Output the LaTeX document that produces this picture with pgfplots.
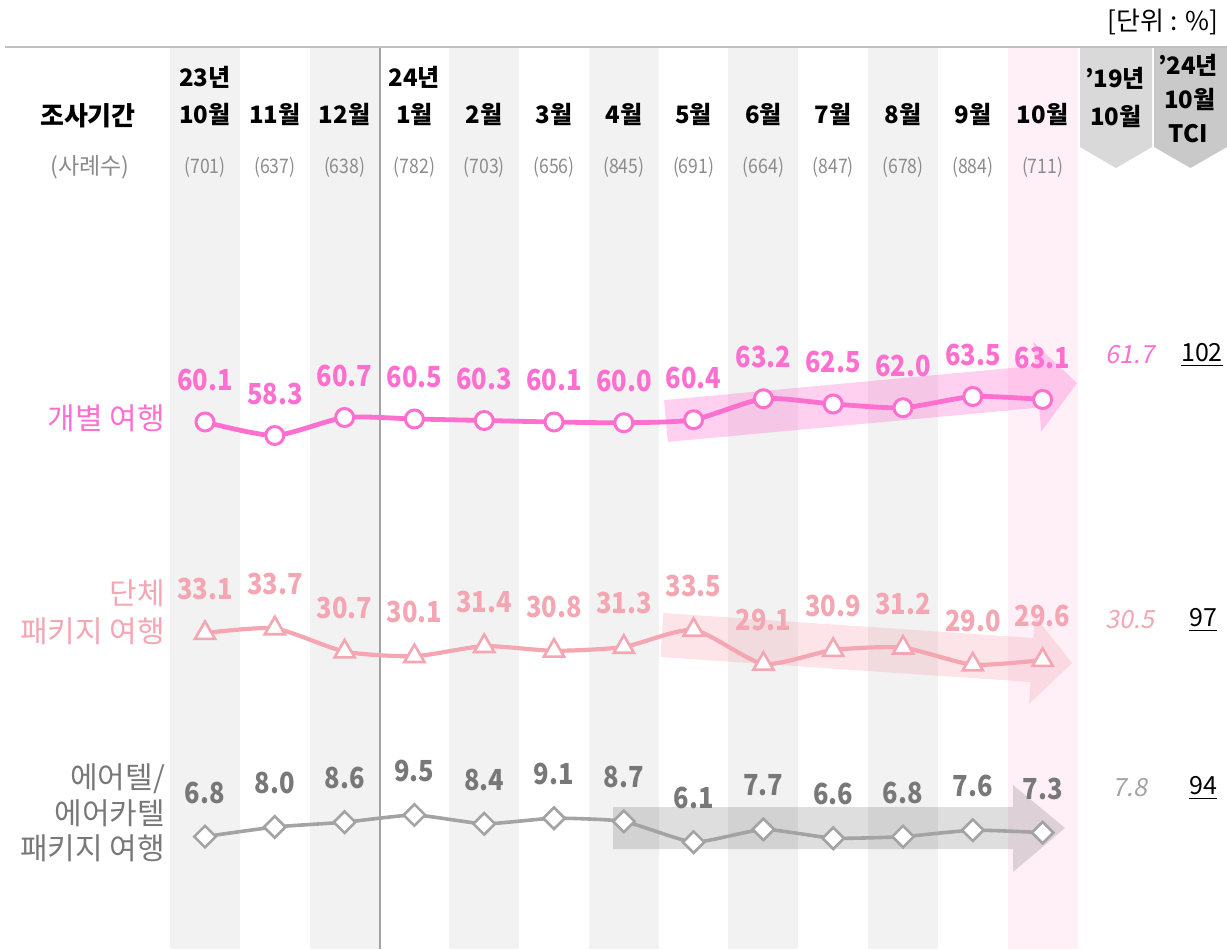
\documentclass[border=0pt]{standalone}
\usepackage{fontspec}
\setmainfont{Noto Sans CJK KR}
\newfontfamily\slfont[FakeSlant=0.2]{Noto Sans CJK KR}
\newfontfamily\numfont[FakeStretch=0.88]{Noto Sans CJK KR}
\usepackage{pgfplots}
\pgfplotsset{compat=1.18}

\definecolor{ipink}{HTML}{FF6FCF}
\definecolor{gpink}{HTML}{F4A6B2}
\definecolor{aline}{HTML}{A3A3A3}
\definecolor{atext}{HTML}{787878}
\definecolor{band}{HTML}{F2F2F2}
\definecolor{pband}{HTML}{FFF0F8}
\definecolor{cnt}{HTML}{8C8C8C}

% every axis covers the whole picture: 1 px of the reference = 0.5pt
\pgfplotsset{
  frame/.style={at={(0,0)}, anchor=south west, scale only axis,
    width=613.5pt, height=474.5pt, hide axis, clip=false},
  dataax/.style={frame, xmin=-2.9370, xmax=14.6418,
    nodes near coords,
    /pgf/number format/fixed, /pgf/number format/fixed zerofill,
    /pgf/number format/precision=1, /pgf/number format/assume math mode=true,
    every node near coord/.append style={anchor=center,
      font=\numfont\fontsize{14.5}{16}\selectfont\bfseries}},
}

\newcommand\hd{\fontsize{12}{14}\selectfont\bfseries}
\newcommand\ct{\numfont\fontsize{10}{12}\selectfont}

\begin{document}
\begin{tikzpicture}
% ---- background, headers, arrows (pixel coordinates)
\begin{axis}[frame, xmin=0, xmax=1227, ymin=0, ymax=949, y dir=reverse]
\fill[band] (170,48) rectangle (240,949);
\fill[band] (309.6,48) rectangle (379.6,949);
\fill[band] (449.2,48) rectangle (519.2,949);
\fill[band] (588.8,48) rectangle (658.8,949);
\fill[band] (728.4,48) rectangle (798.4,949);
\fill[band] (868,48) rectangle (938,949);
\fill[pband] (1007.6,48) rectangle (1077.6,949);
\draw[black!25, line width=1pt] (5,47) -- (1227,47);
\draw[aline, line width=1pt] (380,48) -- (380,949);
% tabs
\fill[black!15] (1080,48) -- (1152,48) -- (1152,147) -- (1116,168) -- (1080,147) -- cycle;
\fill[black!21] (1154,48) -- (1227,48) -- (1227,147) -- (1190.5,168) -- (1154,147) -- cycle;
\node[font=\hd] at (1115,78) {’19년};
\node[font=\hd] at (1116,116) {10월};
\node[font=\hd] at (1188,65) {’24년};
\node[font=\hd] at (1190,99) {10월};
\node[font=\hd] at (1188,134) {TCI};
\node[font=\fontsize{13}{15}\selectfont, anchor=east] at (1225,22) {[단위 : \%]};
% header row
\node[font=\fontsize{13}{15}\selectfont\bfseries] at (88,116) {조사기간};
\node[font=\fontsize{11.5}{13}\selectfont, text=cnt] at (90,167) {(사례수)};
\node[font=\hd] at (205,77) {23년};
\node[font=\hd] at (414.4,77) {24년};
\node[font=\hd] at (205,114) {10월};
\node[font=\hd] at (274.8,114) {11월};
\node[font=\hd] at (344.6,114) {12월};
\node[font=\hd] at (414.4,114) {1월};
\node[font=\hd] at (484.2,114) {2월};
\node[font=\hd] at (554,114) {3월};
\node[font=\hd] at (623.8,114) {4월};
\node[font=\hd] at (693.6,114) {5월};
\node[font=\hd] at (763.4,114) {6월};
\node[font=\hd] at (833.2,114) {7월};
\node[font=\hd] at (903,114) {8월};
\node[font=\hd] at (972.8,114) {9월};
\node[font=\hd] at (1042.6,114) {10월};
\node[font=\ct, text=cnt] at (205,167) {(701)};
\node[font=\ct, text=cnt] at (274.8,167) {(637)};
\node[font=\ct, text=cnt] at (344.6,167) {(638)};
\node[font=\ct, text=cnt] at (414.4,167) {(782)};
\node[font=\ct, text=cnt] at (484.2,167) {(703)};
\node[font=\ct, text=cnt] at (554,167) {(656)};
\node[font=\ct, text=cnt] at (623.8,167) {(845)};
\node[font=\ct, text=cnt] at (693.6,167) {(691)};
\node[font=\ct, text=cnt] at (763.4,167) {(664)};
\node[font=\ct, text=cnt] at (833.2,167) {(847)};
\node[font=\ct, text=cnt] at (903,167) {(678)};
\node[font=\ct, text=cnt] at (972.8,167) {(884)};
\node[font=\ct, text=cnt] at (1042.6,167) {(711)};
% series names
\node[font=\fontsize{15}{18.5}\selectfont, text=ipink, anchor=east] at (172,418) {개별 여행};
\node[font=\fontsize{15}{19}\selectfont, text=gpink, anchor=east, align=right] at (172,612) {단체\\패키지 여행};
\node[font=\fontsize{15}{17.75}\selectfont, text=atext, anchor=east, align=right] at (172,813) {에어텔/\\에어카텔\\패키지 여행};
% trend arrows
\fill[ipink, fill opacity=0.33]
  (664.1,400.1) -- (1035.3,365.8) -- (1033.1,341.9) -- (1077,383)
  -- (1041.3,431.5) -- (1039.1,407.6) -- (667.9,441.9) -- cycle;
\fill[gpink, fill opacity=0.3]
  (663.5,613) -- (1033.5,638) -- (1035,616) -- (1072,663)
  -- (1029,704) -- (1030.5,682) -- (660.5,657) -- cycle;
\fill[black, fill opacity=0.13]
  (613,807) -- (1013,807) -- (1013,785) -- (1065,828)
  -- (1013,872) -- (1013,849) -- (613,849) -- cycle;
% 2019 and TCI columns
\node[font=\slfont\fontsize{12.5}{14}\selectfont, text=ipink] at (1130,355) {61.7};
\node[font=\slfont\fontsize{12.5}{14}\selectfont, text=gpink] at (1130,620) {30.5};
\node[font=\slfont\fontsize{12.5}{14}\selectfont, text=aline] at (1130,788) {7.8};
\node[font=\fontsize{12.5}{14}\selectfont] at (1202,355) {\underline{102}};
\node[font=\fontsize{12.5}{14}\selectfont] at (1203,620) {\underline{97}};
\node[font=\fontsize{12.5}{14}\selectfont] at (1203,788) {\underline{94}};
\end{axis}

% ---- individual travel
\begin{axis}[dataax, ymin=-10.1667, ymax=116.3667,
  every node near coord/.append style={text=ipink, yshift=21pt}]
\addplot[ipink, line width=2.4pt, smooth, tension=0.4, mark=*,
  mark size=4.5pt, mark options={fill=white, draw=ipink, line width=1.5pt}]
  coordinates {(0,60.1) (1,58.3) (2,60.7) (3,60.5) (4,60.3) (5,60.1) (6,60.0)
    (7,60.4) (8,63.2) (9,62.5) (10,62.0) (11,63.5) (12,63.1)};
\end{axis}

% ---- group package
\begin{axis}[dataax, ymin=-7.9286, ymax=115.3182,
  every node near coord/.append style={text=gpink, yshift=22pt}]
\addplot[gpink, line width=2.1pt, smooth, tension=0.4, mark=triangle*,
  mark size=5.8pt, mark options={fill=white, draw=gpink, line width=1.3pt}]
  coordinates {(0,33.1) (1,33.7) (2,30.7) (3,30.1) (4,31.4) (5,30.8) (6,31.3)
    (7,33.5) (8,29.1) (9,30.9) (10,31.2) (11,29.0) (12,29.6)};
\end{axis}

% ---- airtel / air-cartel package
\begin{axis}[dataax, ymin=-7.25, ymax=111.375,
  every node near coord/.append style={text=atext, yshift=22pt}]
\addplot[aline, line width=1.8pt, smooth, tension=0.3, mark=square*,
  mark size=3.8pt, mark options={rotate=45, fill=white, draw=aline, line width=1.3pt}]
  coordinates {(0,6.8) (1,8.0) (2,8.6) (3,9.5) (4,8.4) (5,9.1) (6,8.7)
    (7,6.1) (8,7.7) (9,6.6) (10,6.8) (11,7.6) (12,7.3)};
\end{axis}

\pgfresetboundingbox
\path[use as bounding box] (0,0) rectangle (613.5pt,474.5pt);
\end{tikzpicture}
\end{document}
